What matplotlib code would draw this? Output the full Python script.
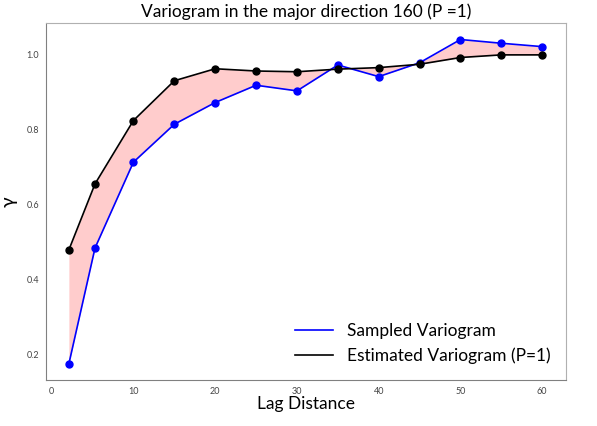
import numpy as np
import matplotlib
matplotlib.use("Agg")
import matplotlib.pyplot as plt

plt.rcParams["font.family"] = ["Lato", "DejaVu Sans"]

lags = [2.1, 5.3, 10, 15, 20, 25, 30, 35, 40, 45, 50, 55, 60]
sampled = [0.176, 0.485, 0.714, 0.815, 0.873, 0.919, 0.904, 0.973, 0.942, 0.979, 1.041, 1.031, 1.022]
estimated = [0.480, 0.656, 0.825, 0.931, 0.963, 0.957, 0.955, 0.962, 0.966, 0.975, 0.993, 1.000, 1.000]

fig = plt.figure(figsize=(5.97, 4.26), dpi=100)
ax = fig.add_axes([0.077, 0.108, 0.871, 0.838])

ax.fill_between(lags, sampled, estimated, color="#ffcccc", lw=0)
ax.plot(lags, sampled, "-", color="blue", lw=1.2, label="Sampled Variogram")
ax.plot(lags, sampled, "o", color="blue", ms=5)
ax.plot(lags, estimated, "-", color="black", lw=1.2, label="Estimated Variogram (P=1)")
ax.plot(lags, estimated, "o", color="black", ms=5)

ax.set_xlim(-0.7, 62.9)
ax.set_ylim(0.133, 1.085)
ax.set_xticks([0, 10, 20, 30, 40, 50, 60])
ax.set_yticks([0.2, 0.4, 0.6, 0.8, 1.0])
ax.tick_params(length=0, labelsize=6.5, labelcolor="#444444", pad=5)
for s in ["left", "bottom"]:
    ax.spines[s].set_color("#808080")
for s in ["top", "right"]:
    ax.spines[s].set_color("#b0b0b0")

ax.set_title("Variogram in the major direction 160 (P =1)", fontsize=12.5, pad=4)
ax.set_xlabel("Lag Distance", fontsize=12.5, labelpad=0)
ax.set_ylabel("γ", fontsize=14)
ax.yaxis.set_label_coords(-0.055, 0.5)
ax.legend(loc="lower right", frameon=False, fontsize=12.5, handlelength=2.2)

fig.savefig("out.png", dpi=100)
